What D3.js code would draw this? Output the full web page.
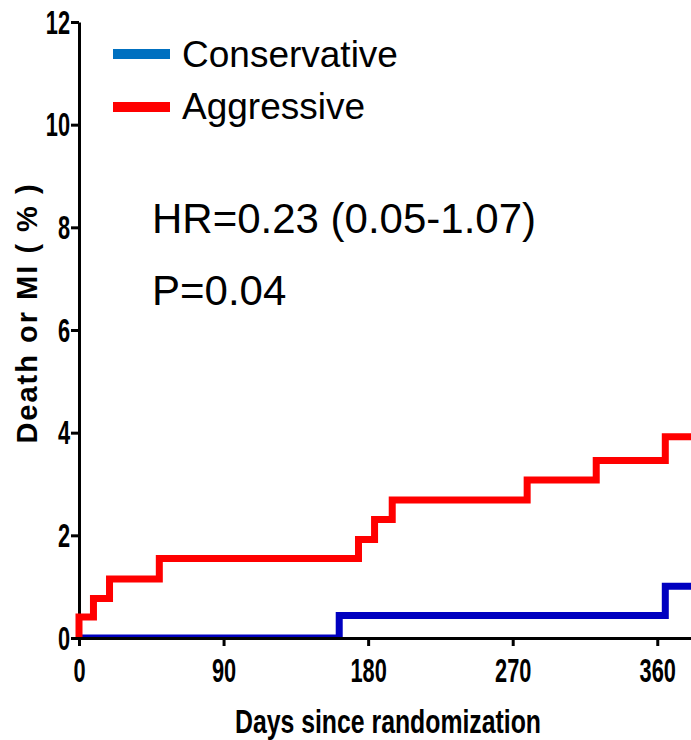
<!DOCTYPE html>
<html>
<head>
<meta charset="utf-8">
<script src="https://cdn.jsdelivr.net/npm/d3@7"></script>
<style>
  body { margin: 0; background: #fff; }
  svg { display: block; font-family: "Liberation Sans", Arial, sans-serif; }
</style>
</head>
<body>
<svg id="chart" width="691" height="740"></svg>
<script>
// cumulative event curves (days, % death or MI)
var aggressiveDays = [0, 0, 9, 19, 50, 174, 184, 195, 279, 322, 365]
var aggressiveRisk = [0, 0.41, 0.77, 1.15, 1.55, 1.92, 2.31, 2.69, 3.08, 3.46, 3.92]
var conservativeDays = [0, 162, 365]
var conservativeRisk = [0, 0.44, 1.01]

var xTicks = [0, 90, 180, 270, 360]
var yTicks = [0, 2, 4, 6, 8, 10, 12]
var seriesNames = ["Conservative", "Aggressive"]
var statLines = ["HR=0.23 (0.05-1.07)", "P=0.04"]

var LINE_BLUE = "#0000c0"
var LEGEND_BLUE = "#0070c0"
var RED = "#ff0000"
var X_END = 381

var svg = d3.select("#chart")

var x = d3.scaleLinear().domain([0, X_END]).range([79, 691])
var y = d3.scaleLinear().domain([0, 12]).range([638, 22])

// keep the flat zero segment from bleeding below the x axis
svg.append("defs").append("clipPath")
  .attr("id", "plotClip")
  .append("rect")
  .attr("x", 0).attr("y", 0)
  .attr("width", 691).attr("height", y(0) - 1)

function toPoints(days, risk) {
  var pts = days.map(function(d, i) { return [d, risk[i]] })
  pts.push([X_END, risk[risk.length - 1]])
  return pts
}

var line = d3.line()
  .x(function(d) { return x(d[0]) })
  .y(function(d) { return y(d[1]) })
  .curve(d3.curveStepAfter)

// axes
var yAxis = svg.append("g")
  .attr("transform", "translate(" + x(0) + ",0)")
  .call(d3.axisLeft(y).tickValues(yTicks).tickSize(8).tickSizeOuter(0))

var xAxis = svg.append("g")
  .attr("transform", "translate(0," + y(0) + ")")
  .call(d3.axisBottom(x).tickValues(xTicks).tickSize(8).tickSizeOuter(0))

function styleAxis(g) {
  g.select(".domain").attr("stroke", "#000").attr("stroke-width", 3)
  g.selectAll(".tick line").attr("stroke", "#000").attr("stroke-width", 3)
  g.selectAll(".tick text")
    .attr("fill", "#000")
    .attr("font-size", 33)
    .attr("font-weight", "bold")
    .attr("font-family", "Liberation Sans, Arial, sans-serif")
}
styleAxis(yAxis)
styleAxis(xAxis)

// narrow the tick digits like the original condensed face
yAxis.selectAll(".tick text")
  .attr("x", 0)
  .attr("dy", "0.34em")
  .attr("transform", "translate(-9,0) scale(0.66,1)")
xAxis.selectAll(".tick text")
  .attr("y", 0)
  .attr("dy", "0")
  .attr("transform", "translate(0,44) scale(0.66,1)")

// curves
svg.append("path")
  .datum(toPoints(conservativeDays, conservativeRisk))
  .attr("clip-path", "url(#plotClip)")
  .attr("fill", "none")
  .attr("stroke", LINE_BLUE)
  .attr("stroke-width", 7)
  .attr("d", line)

svg.append("path")
  .datum(toPoints(aggressiveDays, aggressiveRisk))
  .attr("clip-path", "url(#plotClip)")
  .attr("fill", "none")
  .attr("stroke", RED)
  .attr("stroke-width", 7)
  .attr("d", line)

// axis titles
svg.append("text")
  .attr("transform", "translate(388,733) scale(0.73,1)")
  .attr("text-anchor", "middle")
  .attr("font-size", 34)
  .attr("font-weight", "bold")
  .text("Days since randomization")

svg.append("text")
  .attr("transform", "translate(37,313) rotate(-90)")
  .attr("text-anchor", "middle")
  .attr("font-size", 29)
  .attr("font-weight", "bold")
  .attr("letter-spacing", 2)
  .text("Death or MI ( % )")

// legend
var legendColors = [LEGEND_BLUE, RED]
var legend = svg.append("g")
legend.selectAll("line")
  .data(seriesNames)
  .enter().append("line")
  .attr("x1", 113).attr("x2", 170)
  .attr("y1", function(d, i) { return 54 + i * 53 })
  .attr("y2", function(d, i) { return 54 + i * 53 })
  .attr("stroke", function(d, i) { return legendColors[i] })
  .attr("stroke-width", 10)

legend.selectAll("text")
  .data(seriesNames)
  .enter().append("text")
  .attr("x", 182)
  .attr("y", function(d, i) { return 67 + i * 52 })
  .attr("font-size", 37)
  .attr("fill", "#000")
  .text(function(d) { return d })

// hazard ratio annotation
svg.selectAll(".stat")
  .data(statLines)
  .enter().append("text")
  .attr("class", "stat")
  .attr("x", 152)
  .attr("y", function(d, i) { return 233 + i * 72 })
  .attr("font-size", 42)
  .attr("fill", "#000")
  .text(function(d) { return d })
</script>
</body>
</html>
